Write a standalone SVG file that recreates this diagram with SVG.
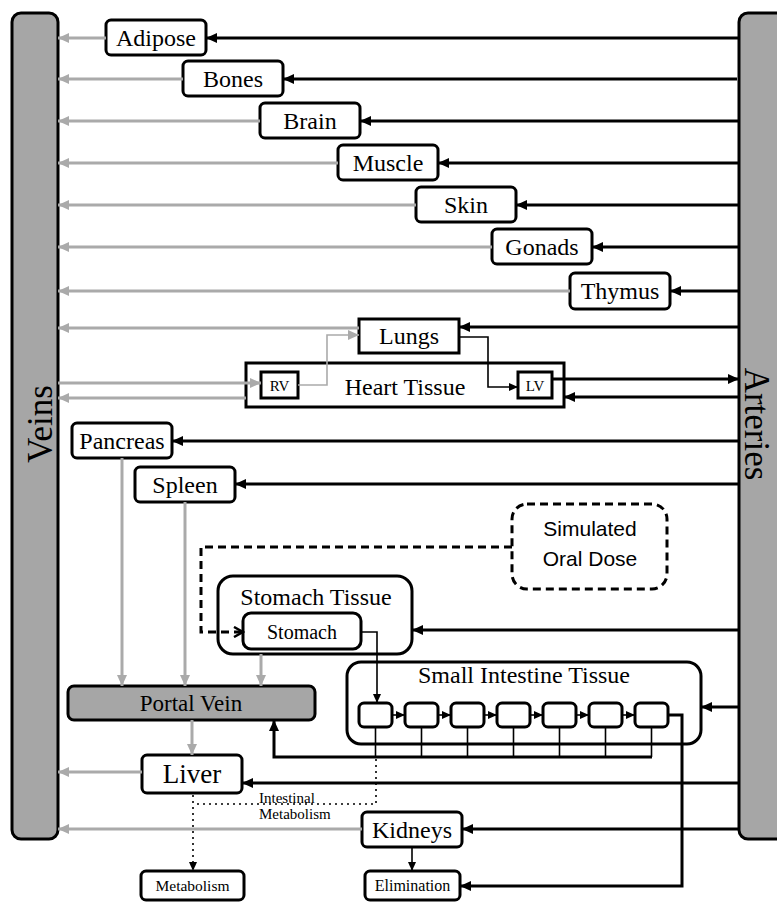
<svg xmlns="http://www.w3.org/2000/svg" width="777" height="902" viewBox="0 0 777 902">
<defs>
<marker id="ab" markerUnits="userSpaceOnUse" markerWidth="12" markerHeight="10" refX="11" refY="5" orient="auto"><path d="M0,0 L11,5 L0,10 z" fill="#000"/></marker>
<marker id="ag" markerUnits="userSpaceOnUse" markerWidth="12" markerHeight="10" refX="11" refY="5" orient="auto"><path d="M0,0 L11,5 L0,10 z" fill="#aaaaaa"/></marker>
<marker id="as" markerUnits="userSpaceOnUse" markerWidth="9" markerHeight="8" refX="9" refY="4" orient="auto"><path d="M0,0 L9,4 L0,8 z" fill="#000"/></marker>
<marker id="ao" markerUnits="userSpaceOnUse" markerWidth="12" markerHeight="12" refX="10" refY="6" orient="auto"><path d="M1,1 L10,6 L1,11" fill="none" stroke="#000" stroke-width="2.5"/></marker>
</defs>
<style>
.box{fill:#fff;stroke:#000;stroke-width:3}
.bar{fill:#a6a6a6;stroke:#000;stroke-width:3}
.t{font-family:"Liberation Serif","Times New Roman",serif;fill:#000;text-anchor:middle}
.l{text-anchor:start}
.s{font-family:"Liberation Sans",Arial,sans-serif;fill:#000;text-anchor:middle}
.bk{stroke:#000;stroke-width:3;fill:none}
.bt{stroke:#000;stroke-width:1.6;fill:none}
.gr{stroke:#aaaaaa;stroke-width:3;fill:none}
.gt{stroke:#aaaaaa;stroke-width:1.6;fill:none}
</style>
<rect width="777" height="902" fill="#fff"/>

<g id="veins"><rect class="bar" x="12" y="13" width="46" height="826" rx="9"/><text class="t" font-size="35" transform="translate(52,424) rotate(-90)">Veins</text></g>
<g id="arteries"><rect class="bar" x="739" y="13" width="60" height="826" rx="9"/><text class="t" font-size="35" transform="translate(745,424) rotate(90)">Arteries</text></g>

<g id="adipose"><rect class="box" x="106" y="20" width="100" height="35" rx="5"/><text class="t" font-size="24" x="156" y="46">Adipose</text></g>
<g id="bones"><rect class="box" x="183" y="61" width="100" height="35" rx="5"/><text class="t" font-size="24" x="233" y="87">Bones</text></g>
<g id="brain"><rect class="box" x="260" y="103" width="100" height="35" rx="5"/><text class="t" font-size="24" x="310" y="129">Brain</text></g>
<g id="muscle"><rect class="box" x="338" y="145" width="100" height="35" rx="5"/><text class="t" font-size="24" x="388" y="171">Muscle</text></g>
<g id="skin"><rect class="box" x="416" y="187" width="100" height="35" rx="5"/><text class="t" font-size="24" x="466" y="213">Skin</text></g>
<g id="gonads"><rect class="box" x="492" y="229" width="100" height="35" rx="5"/><text class="t" font-size="24" x="542" y="255">Gonads</text></g>
<g id="thymus"><rect class="box" x="570" y="273" width="100" height="36" rx="5"/><text class="t" font-size="24" x="620" y="299">Thymus</text></g>
<g id="lungs"><rect class="box" x="359" y="319" width="100" height="34"/><text class="t" font-size="24" x="409" y="344">Lungs</text></g>
<g id="heart"><rect class="box" x="246" y="363" width="318" height="44"/><text class="t" font-size="24" x="405" y="395">Heart Tissue</text>
<rect class="box" x="261" y="372" width="37" height="26"/><text class="t" font-size="15" x="279.5" y="391">RV</text>
<rect class="box" x="518" y="372" width="34" height="26"/><text class="t" font-size="15" x="535" y="391">LV</text></g>
<g id="pancreas"><rect class="box" x="72" y="423" width="100" height="35" rx="5"/><text class="t" font-size="24" x="122" y="449">Pancreas</text></g>
<g id="spleen"><rect class="box" x="135" y="467" width="100" height="35" rx="5"/><text class="t" font-size="24" x="185" y="493">Spleen</text></g>
<g id="oraldose"><rect x="512" y="504" width="155" height="85" rx="15" fill="#fff" stroke="#000" stroke-width="3" stroke-dasharray="8 5"/><text class="s" font-size="21" x="590" y="536">Simulated</text><text class="s" font-size="21" x="590" y="566">Oral Dose</text></g>
<g id="stomach"><rect class="box" x="218" y="576" width="194" height="78" rx="15"/><text class="t" font-size="24" x="316" y="605">Stomach Tissue</text>
<rect class="box" x="243" y="613" width="118" height="36" rx="8"/><text class="t" font-size="20" x="302" y="639">Stomach</text></g>
<g id="smallintestine"><rect class="box" x="347" y="662" width="354" height="82" rx="14"/><text class="t" font-size="24" x="524" y="683">Small Intestine Tissue</text>
<rect class="box" x="359" y="703" width="33" height="24" rx="5"/>
<rect class="box" x="405" y="703" width="33" height="24" rx="5"/>
<rect class="box" x="451" y="703" width="33" height="24" rx="5"/>
<rect class="box" x="497" y="703" width="33" height="24" rx="5"/>
<rect class="box" x="543" y="703" width="33" height="24" rx="5"/>
<rect class="box" x="589" y="703" width="33" height="24" rx="5"/>
<rect class="box" x="635" y="703" width="33" height="24" rx="5"/></g>
<g id="portalvein"><rect class="bar" x="68" y="686" width="247" height="34" rx="6"/><text class="t" font-size="23" x="191" y="711">Portal Vein</text></g>
<g id="liver"><rect class="box" x="142" y="755" width="100" height="38" rx="5"/><text class="t" font-size="27" x="192" y="783">Liver</text></g>
<g id="intestinalmetabolism"><text class="t l" font-size="15" x="259" y="803">Intestinal</text><text class="t l" font-size="15" x="259" y="819">Metabolism</text></g>
<g id="kidneys"><rect class="box" x="362" y="812" width="100" height="35" rx="5"/><text class="t" font-size="24" x="412" y="838">Kidneys</text></g>
<g id="metabolism"><rect class="box" x="141" y="871" width="103" height="29" rx="5"/><text class="t" font-size="15.5" x="192.5" y="891">Metabolism</text></g>
<g id="elimination"><rect class="box" x="365" y="871" width="95" height="29" rx="5"/><text class="t" font-size="16" x="412.5" y="891">Elimination</text></g>

<g id="connectors">
<path class="bk" d="M739,38 H206" marker-end="url(#ab)"/>
<path class="gr" d="M106,38 H58" marker-end="url(#ag)"/>
<path class="bk" d="M737,79 H283" marker-end="url(#ab)"/>
<path class="gr" d="M183,79 H58" marker-end="url(#ag)"/>
<path class="bk" d="M739,121 H360" marker-end="url(#ab)"/>
<path class="gr" d="M260,121 H58" marker-end="url(#ag)"/>
<path class="bk" d="M739,163 H438" marker-end="url(#ab)"/>
<path class="gr" d="M338,163 H58" marker-end="url(#ag)"/>
<path class="bk" d="M739,205 H516" marker-end="url(#ab)"/>
<path class="gr" d="M416,205 H58" marker-end="url(#ag)"/>
<path class="bk" d="M739,247 H592" marker-end="url(#ab)"/>
<path class="gr" d="M492,247 H58" marker-end="url(#ag)"/>
<path class="bk" d="M739,291 H670" marker-end="url(#ab)"/>
<path class="gr" d="M570,291 H58" marker-end="url(#ag)"/>
<path class="bk" d="M739,327 H459" marker-end="url(#ab)"/>
<path class="gr" d="M359,328 H58" marker-end="url(#ag)"/>
<path class="gt" d="M298,385 H327 V335 H359" marker-end="url(#ag)"/>
<path class="bt" d="M459,337 H488 V387 H518" marker-end="url(#as)"/>
<path class="gr" d="M58,383 H261" marker-end="url(#ag)"/>
<path class="gr" d="M246,398 H58" marker-end="url(#ag)"/>
<path class="bk" d="M552,379 H739" marker-end="url(#ab)"/>
<path class="bk" d="M739,397 H564" marker-end="url(#ab)"/>
<path class="bk" d="M739,441 H172" marker-end="url(#ab)"/>
<path class="bk" d="M739,484 H235" marker-end="url(#ab)"/>
<path class="gr" d="M122,458 V686" marker-end="url(#ag)"/>
<path class="gr" d="M185,502 V686" marker-end="url(#ag)"/>
<path class="gr" d="M261,654 V686" marker-end="url(#ag)"/>
<path class="gr" d="M192,720 V755" marker-end="url(#ag)"/>
<path class="bk" d="M512,547 H201 V632 H243" stroke-dasharray="8 5" marker-end="url(#ao)"/>
<path class="bt" d="M361,632 H377 V703" marker-end="url(#as)"/>
<path class="bk" d="M739,630 H412" marker-end="url(#ab)"/>
<path class="bk" d="M739,707 H701" marker-end="url(#ab)"/>
<path class="bt" d="M392,715 H405" marker-end="url(#as)"/>
<path class="bt" d="M438,715 H451" marker-end="url(#as)"/>
<path class="bt" d="M484,715 H497" marker-end="url(#as)"/>
<path class="bt" d="M530,715 H543" marker-end="url(#as)"/>
<path class="bt" d="M576,715 H589" marker-end="url(#as)"/>
<path class="bt" d="M622,715 H635" marker-end="url(#as)"/>
<path class="bt" stroke-width="2" d="M375.5,728 V757 M421.5,728 V757 M467.5,728 V757 M513.5,728 V757 M559.5,728 V757 M605.5,728 V757 M651.5,728 V757"/>
<path class="bk" d="M652,757 H274 V720" marker-end="url(#ab)"/>
<path class="bk" d="M668,715 H682 V886 H460" marker-end="url(#ab)"/>
<path class="gr" d="M142,772 H58" marker-end="url(#ag)"/>
<path class="bk" d="M739,783 H242" marker-end="url(#ab)"/>
<path class="gr" d="M362,829 H58" marker-end="url(#ag)"/>
<path class="bk" d="M739,829 H462" marker-end="url(#ab)"/>
<path class="bt" stroke-width="2" d="M412,848 V871" marker-end="url(#as)"/>
<path class="bt" stroke-width="2" stroke-dasharray="2 4" d="M376,759 V804 H193"/>
<path class="bt" stroke-width="2" stroke-dasharray="2 4" d="M193,795 V871" marker-end="url(#as)"/>
</g>
</svg>
